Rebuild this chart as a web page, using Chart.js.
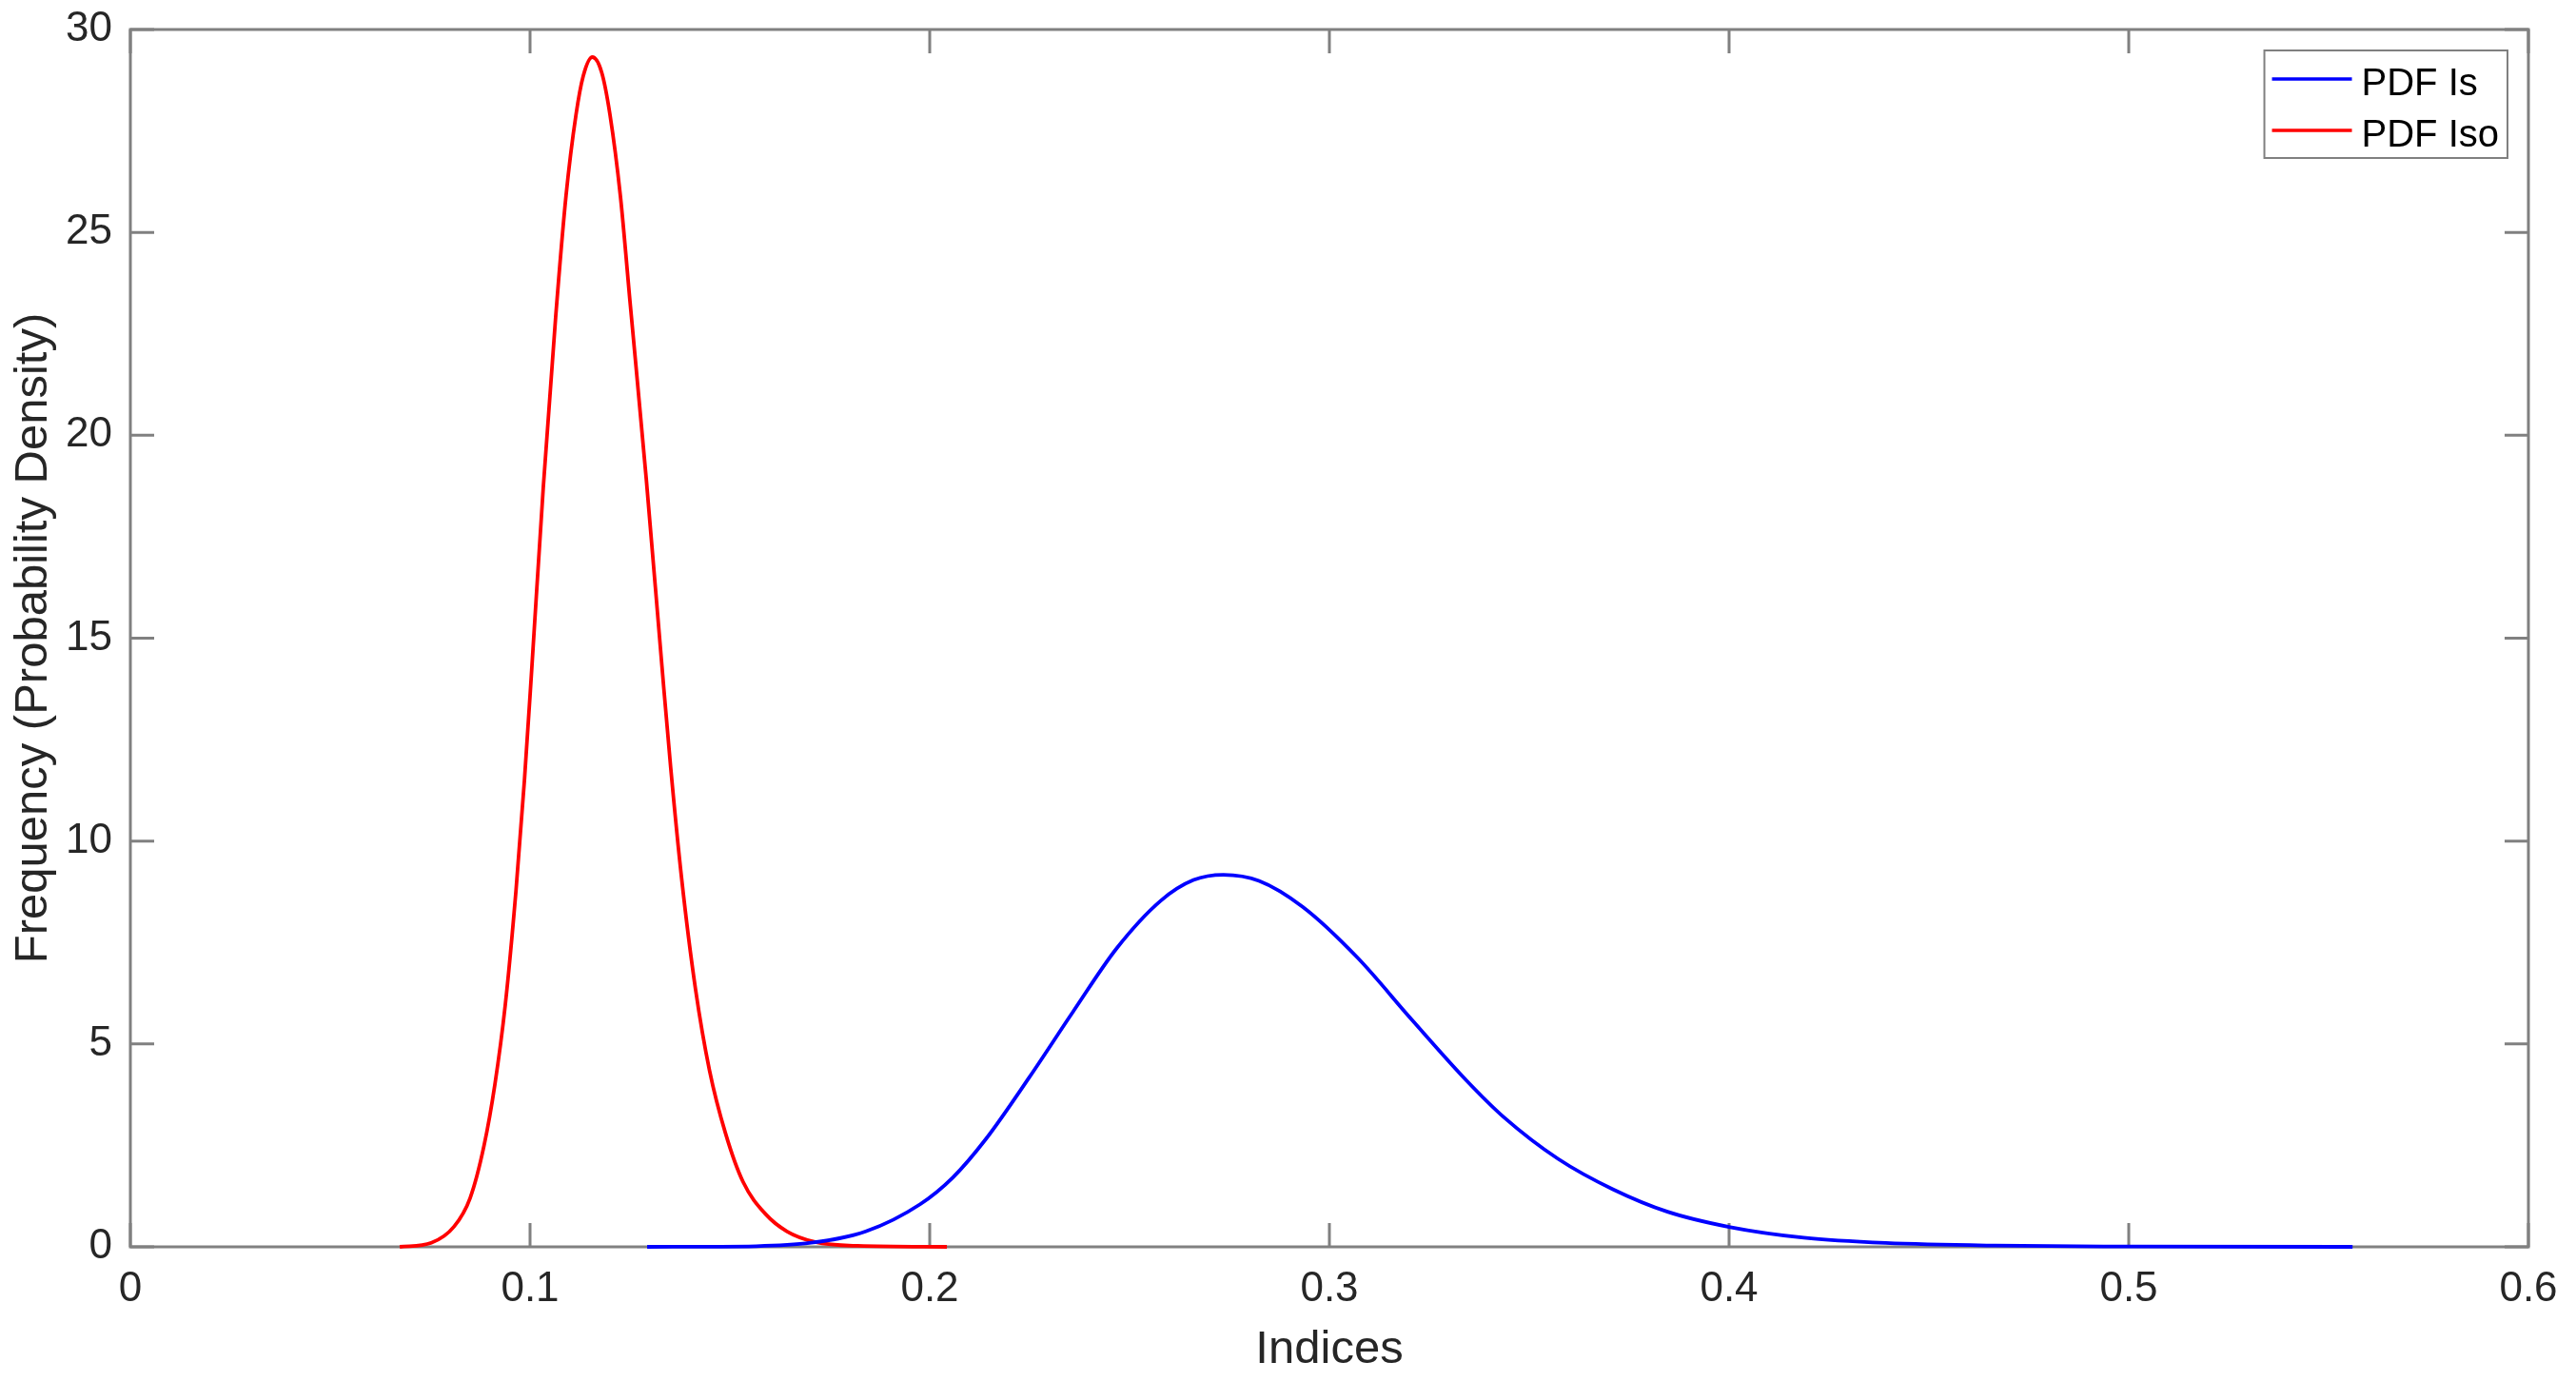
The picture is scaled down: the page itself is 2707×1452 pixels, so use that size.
<!DOCTYPE html>
<html>
<head>
<meta charset="utf-8">
<script src="https://cdn.jsdelivr.net/npm/chart.js@4.4.1/dist/chart.umd.min.js"></script>
<style>
  html, body { margin: 0; padding: 0; background: #ffffff; }
  .wrap { position: relative; width: 2707px; height: 1452px; }
</style>
</head>
<body>
<div class="wrap"><canvas id="pdfChart"></canvas></div>
<script>
// values
const isX = [0.1293, 0.1566, 0.1703, 0.184, 0.1976, 0.2058, 0.2140, 0.2250, 0.2359, 0.2468,
  0.2578, 0.2660, 0.2735, 0.2824, 0.2933, 0.3070, 0.3206, 0.3343, 0.3436, 0.3572,
  0.3709, 0.3846, 0.4003, 0.4187, 0.4392, 0.4666, 0.5, 0.556];
const isY = [0, 0.017, 0.10, 0.38, 1.05, 1.71, 2.65, 4.19, 5.80, 7.36,
  8.53, 9.04, 9.17, 9.02, 8.38, 7.13, 5.60, 4.10, 3.20, 2.17,
  1.42, 0.865, 0.485, 0.225, 0.095, 0.03, 0.008, 0];

const isoX = [0.0674, 0.0753, 0.0810, 0.0850, 0.0885, 0.0912, 0.0938, 0.0965, 0.0986, 0.1004,
  0.1033, 0.1064, 0.1090, 0.1115, 0.1133, 0.1156, 0.1179, 0.1200, 0.1226, 0.1251,
  0.1291, 0.1330, 0.1352, 0.1379, 0.1414, 0.1449, 0.1489, 0.1533, 0.1590, 0.1643,
  0.1713, 0.182, 0.2043];
const isoY = [0, 0.1, 0.5, 1.2, 2.5, 4.0, 5.96, 8.8, 11.5, 14.2,
  18.7, 22.9, 25.9, 27.9, 28.85, 29.32, 28.95, 27.9, 25.9, 23.2,
  18.9, 14.31, 11.8, 9.1, 6.35, 4.35, 2.8, 1.6, 0.8, 0.38,
  0.12, 0.025, 0];

const seriesLabels = ["PDF Is", "PDF Iso"];
const seriesColors = ["#0000ff", "#ff0000"];

const xMin = 0, xMax = 0.6, xStep = 0.1;
const yMin = 0, yMax = 30, yStep = 5;

const FONT = "'Liberation Sans', Arial, sans-serif";
const TEXT = "#262626";
const AXIS = "#808080";

function toPoints(xs, ys) {
  return xs.map((x, i) => ({ x: x, y: ys[i] }));
}

// box round the plot with inward ticks on all four sides
const boxAxes = {
  id: "boxAxes",
  beforeDatasetsDraw(chart) {
    const { ctx, chartArea: a, scales } = chart;
    const len = 25;
    ctx.save();
    ctx.strokeStyle = AXIS;
    ctx.lineWidth = 3;
    ctx.beginPath();
    scales.x.ticks.forEach(t => {
      const px = scales.x.getPixelForValue(t.value);
      ctx.moveTo(px, a.bottom); ctx.lineTo(px, a.bottom - len);
      ctx.moveTo(px, a.top); ctx.lineTo(px, a.top + len);
    });
    scales.y.ticks.forEach(t => {
      const py = scales.y.getPixelForValue(t.value);
      ctx.moveTo(a.left, py); ctx.lineTo(a.left + len, py);
      ctx.moveTo(a.right, py); ctx.lineTo(a.right - len, py);
    });
    ctx.stroke();
    ctx.strokeRect(a.left, a.top, a.right - a.left, a.bottom - a.top);
    ctx.restore();
  }
};

// legend box in the top right corner of the plot
const boxLegend = {
  id: "boxLegend",
  afterDraw(chart) {
    const { ctx, chartArea: a } = chart;
    const sets = chart.data.datasets;
    ctx.save();
    ctx.font = "40px " + FONT;
    const textW = Math.max(...sets.map(d => ctx.measureText(d.label).width));
    const w = 102 + textW + 9;
    const h = 113;
    const right = a.right - 22;
    const top = a.top + 22;
    const left = right - w;
    ctx.fillStyle = "#ffffff";
    ctx.fillRect(left, top, w, h);
    ctx.strokeStyle = AXIS;
    ctx.lineWidth = 2;
    ctx.strokeRect(left, top, w, h);
    sets.forEach((d, i) => {
      const cy = top + 30 + i * 54;
      ctx.strokeStyle = d.borderColor;
      ctx.lineWidth = 3.5;
      ctx.beginPath();
      ctx.moveTo(left + 8, cy);
      ctx.lineTo(left + 92, cy);
      ctx.stroke();
      ctx.fillStyle = "#000000";
      ctx.textBaseline = "alphabetic";
      ctx.textAlign = "left";
      ctx.fillText(d.label, left + 102, cy + 16.5);
    });
    ctx.restore();
  }
};

new Chart(document.getElementById("pdfChart"), {
  type: "line",
  data: {
    datasets: [
      {
        label: seriesLabels[0],
        data: toPoints(isX, isY),
        borderColor: seriesColors[0],
        borderWidth: 3.8,
        pointRadius: 0,
        cubicInterpolationMode: "monotone",
        clip: false
      },
      {
        label: seriesLabels[1],
        data: toPoints(isoX, isoY),
        borderColor: seriesColors[1],
        borderWidth: 3.8,
        pointRadius: 0,
        cubicInterpolationMode: "monotone",
        clip: false
      }
    ]
  },
  options: {
    responsive: true,
    maintainAspectRatio: false,
    animation: false,
    devicePixelRatio: 1,
    layout: { padding: { top: 31, right: 50, left: 0, bottom: 0 } },
    plugins: {
      legend: { display: false },
      tooltip: { enabled: false }
    },
    scales: {
      x: {
        type: "linear",
        min: xMin,
        max: xMax,
        grid: { display: false, drawTicks: false },
        border: { display: false },
        ticks: {
          stepSize: xStep,
          autoSkip: false,
          maxRotation: 0,
          padding: 18,
          color: TEXT,
          font: { family: FONT, size: 44 }
        },
        title: {
          display: true,
          text: "Indices",
          color: TEXT,
          font: { family: FONT, size: 49 },
          padding: { top: 0, bottom: 4 }
        },
        afterFit(scale) {
          scale.height = 142;
          scale.paddingLeft = 0;
          scale.paddingRight = 0;
        }
      },
      y: {
        type: "linear",
        min: yMin,
        max: yMax,
        grid: { display: false, drawTicks: false },
        border: { display: false },
        ticks: {
          stepSize: yStep,
          padding: 19,
          color: TEXT,
          font: { family: FONT, size: 44 }
        },
        title: {
          display: true,
          text: "Frequency (Probability Density)",
          color: TEXT,
          font: { family: FONT, size: 49 },
          padding: { top: 6, bottom: 0 }
        },
        afterFit(scale) {
          scale.width = 137;
          scale.paddingTop = 0;
          scale.paddingBottom = 0;
        }
      }
    }
  },
  plugins: [boxAxes, boxLegend]
});
</script>
</body>
</html>
